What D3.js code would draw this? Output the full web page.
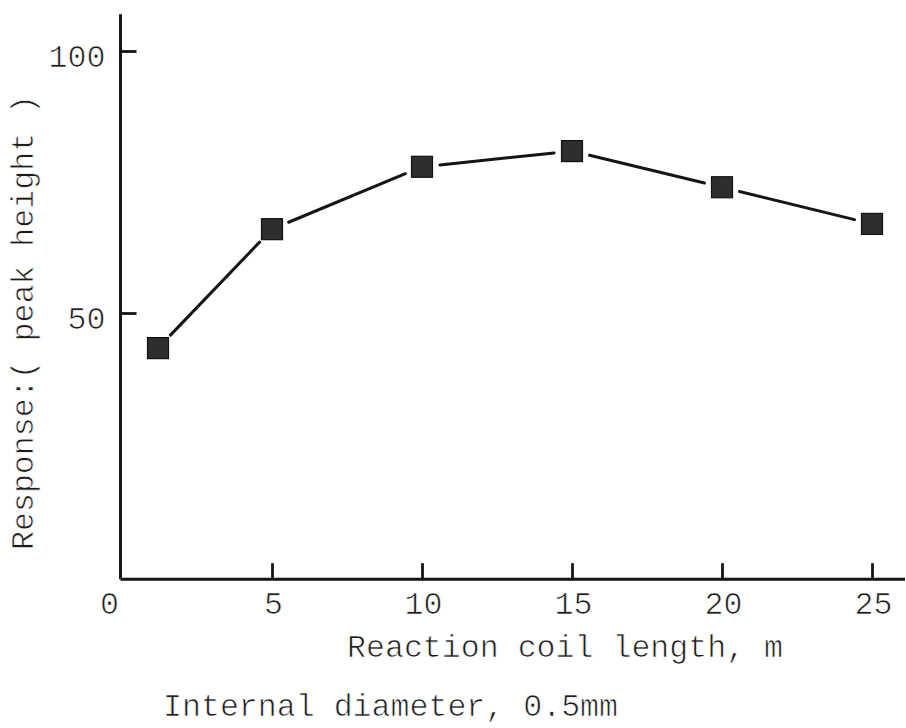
<!DOCTYPE html>
<html>
<head>
<meta charset="utf-8">
<script src="https://cdn.jsdelivr.net/npm/d3@7"></script>
<style>
  html, body { margin: 0; padding: 0; background: #fff; }
  svg { display: block; }
  text {
    font-family: "Liberation Mono", "DejaVu Sans Mono", monospace;
    fill: #1c1c1c;
    stroke: #fff;
    stroke-width: 0.7px;
  }
</style>
</head>
<body>
<svg id="chart" width="906" height="728"></svg>
<script>
// Reaction coil length (m) and detector response (peak height)
const coilLength = [1.2, 5, 10, 15, 20, 25];
const response = [43.3, 66.0, 77.9, 80.9, 74.0, 67.0];
const xTickValues = [0, 5, 10, 15, 20, 25];
const yTickValues = [50, 100];
const xTitle = "Reaction coil length, m";
const yTitle = "Response:( peak height )";
const note = "Internal diameter, 0.5mm";

const svg = d3.select("#chart");

const x = d3.scaleLinear().domain([0, 25]).range([122, 872]);
const y = d3.scaleLinear().domain([0, 100]).range([575, 51]);

// axis lines run a little past the data range
const xExtent = [-0.05, 26.1];
const yExtent = [-0.8, 107];
const axisY = y(yExtent[0]);
const axisX = x(xExtent[0]);

const ink = "#151515";
const fontSize = 31.6;

// x axis
const xAxis = d3.axisBottom(x)
  .tickValues(xTickValues)
  .tickSizeInner(-16)
  .tickSizeOuter(0)
  .tickPadding(0)
  .tickFormat(d3.format("d"));

const gx = svg.append("g")
  .attr("transform", `translate(0,${axisY})`)
  .call(xAxis);
gx.select(".domain").remove();
gx.selectAll(".tick line").attr("stroke", ink).attr("stroke-width", 2.8)
  .filter(d => d === 0).remove();
gx.selectAll(".tick text")
  .attr("font-size", fontSize)
  .attr("font-family", null)
  .attr("fill", null)
  .attr("dy", null)
  .attr("y", 35)
  .attr("x", d => d === 0 ? -13 : 1);

svg.append("line")
  .attr("x1", x(xExtent[0])).attr("x2", x(xExtent[1]))
  .attr("y1", axisY).attr("y2", axisY)
  .attr("stroke", ink).attr("stroke-width", 3);

// y axis
const yAxis = d3.axisLeft(y)
  .tickValues(yTickValues)
  .tickSizeInner(-16)
  .tickSizeOuter(0)
  .tickPadding(0)
  .tickFormat(d3.format("d"));

const gy = svg.append("g")
  .attr("transform", `translate(${axisX},0)`)
  .call(yAxis);
gy.select(".domain").remove();
gy.selectAll(".tick line").attr("stroke", ink).attr("stroke-width", 2.8);
gy.selectAll(".tick text")
  .attr("font-size", fontSize)
  .attr("font-family", null)
  .attr("fill", null)
  .attr("text-anchor", "end")
  .attr("x", -15)
  .attr("dy", "0.5em");

svg.append("line")
  .attr("x1", axisX).attr("x2", axisX)
  .attr("y1", y(yExtent[0])).attr("y2", y(yExtent[1]))
  .attr("stroke", ink).attr("stroke-width", 3);

// connecting segments, stopped short of each marker
const pts = coilLength.map((c, i) => [x(c), y(response[i])]);
const gap = 18;
const segs = d3.pairs(pts).map(([a, b]) => {
  const dx = b[0] - a[0], dy = b[1] - a[1];
  const len = Math.hypot(dx, dy);
  const ux = dx / len, uy = dy / len;
  return [a[0] + ux * gap, a[1] + uy * gap, b[0] - ux * gap, b[1] - uy * gap];
});
svg.append("g").selectAll("line")
  .data(segs)
  .join("line")
  .attr("x1", d => d[0]).attr("y1", d => d[1])
  .attr("x2", d => d[2]).attr("y2", d => d[3])
  .attr("stroke", ink)
  .attr("stroke-width", 3)
  .attr("stroke-linecap", "round");

// square markers
const side = 21;
svg.append("g").selectAll("rect")
  .data(coilLength.map((c, i) => ({ c, r: response[i] })))
  .join("rect")
  .attr("x", d => x(d.c) - side / 2)
  .attr("y", d => y(d.r) - side / 2)
  .attr("width", side)
  .attr("height", side)
  .attr("fill", "#2e2e2e")
  .attr("stroke", "#111")
  .attr("stroke-width", 1.2);

// titles
svg.append("text")
  .attr("x", 347).attr("y", 657)
  .attr("font-size", fontSize)
  .text(xTitle);

svg.append("text")
  .attr("transform", "translate(33,550) rotate(-90)")
  .attr("font-size", fontSize)
  .text(yTitle);

svg.append("text")
  .attr("x", 163).attr("y", 716)
  .attr("font-size", fontSize)
  .text(note);
</script>
</body>
</html>
